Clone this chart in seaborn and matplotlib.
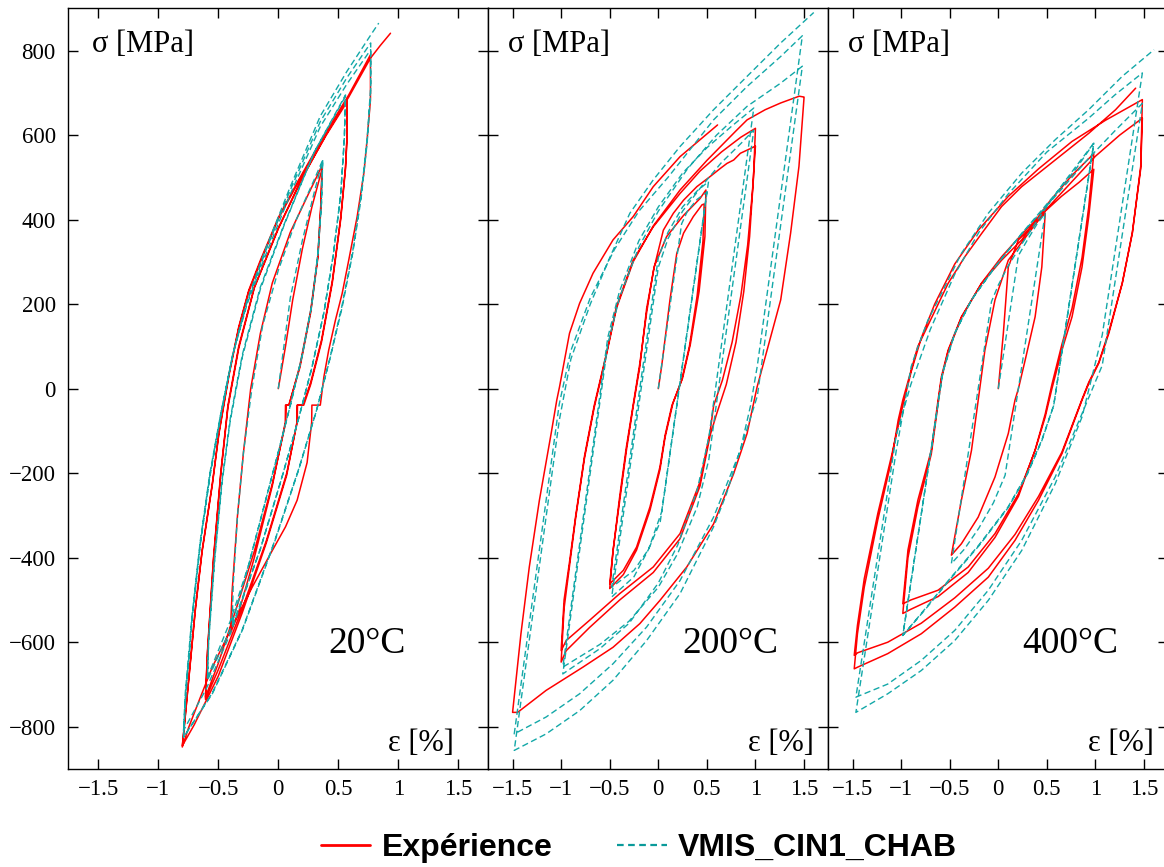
import matplotlib
matplotlib.use("Agg")
import matplotlib.pyplot as plt
from matplotlib.lines import Line2D
import numpy as np
import pandas as pd
import seaborn as sns

# ---------------- data ----------------
temperatures = ["20°C", "200°C", "400°C"]
series_names = ["Expérience", "VMIS_CIN1_CHAB"]
x_ticks = [-1.5, -1, -0.5, 0, 0.5, 1, 1.5]
x_tick_labels = ["\u22121.5", "\u22121", "\u22120.5", "0", "0.5", "1", "1.5"]
y_ticks = [-800, -600, -400, -200, 0, 200, 400, 600, 800]
y_tick_labels = ["\u2212800", "\u2212600", "\u2212400", "\u2212200", "0", "200", "400", "600", "800"]

# strain [%], stress [MPa] histories
exp_20 = [
    (0.00, 0), (0.06, 100), (0.12, 210), (0.20, 330), (0.28, 430), (0.365, 520),
    (0.355, 430), (0.33, 310), (0.27, 180), (0.18, 50), (0.087, -39), (0.06, -39), (0.058, -80),
    (-0.05, -230), (-0.20, -400), (-0.32, -520), (-0.40, -580),
    (-0.385, -480), (-0.34, -300), (-0.29, -150), (-0.23, 0), (-0.15, 130), (-0.05, 250),
    (0.10, 370), (0.25, 460), (0.365, 528),
    (0.355, 440), (0.33, 315), (0.27, 185), (0.18, 55), (0.09, -39), (0.065, -39), (0.062, -80),
    (-0.05, -225), (-0.20, -385), (-0.35, -520), (-0.50, -650), (-0.607, -730),
    (-0.59, -620), (-0.54, -400), (-0.48, -200), (-0.42, -40), (-0.33, 100), (-0.20, 240),
    (0.00, 380), (0.20, 500), (0.40, 600), (0.574, 679),
    (0.574, 600), (0.56, 520), (0.52, 400), (0.45, 250), (0.36, 110), (0.27, 10), (0.212, -39),
    (0.16, -39), (0.157, -80), (0.07, -200), (-0.10, -360), (-0.30, -520), (-0.50, -665), (-0.607, -735),
    (-0.59, -625), (-0.54, -405), (-0.48, -205), (-0.42, -45), (-0.33, 95), (-0.20, 238),
    (0.00, 378), (0.20, 498), (0.40, 602), (0.574, 684),
    (0.574, 605), (0.56, 525), (0.52, 405), (0.45, 255), (0.36, 115), (0.27, 15), (0.205, -39),
    (0.157, -39), (0.155, -80), (0.07, -205), (-0.10, -365), (-0.30, -530), (-0.50, -680),
    (-0.70, -795), (-0.80, -845),
    (-0.774, -770), (-0.69, -517), (-0.635, -383), (-0.55, -225), (-0.496, -106), (-0.41, 36),
    (-0.33, 146), (-0.246, 233), (-0.149, 304), (0.004, 407), (0.17, 494), (0.393, 605),
    (0.587, 695), (0.768, 790),
    (0.768, 683), (0.74, 589), (0.713, 510), (0.657, 407), (0.587, 304), (0.532, 225),
    (0.476, 162), (0.42, 91), (0.38, 28), (0.35, -39), (0.28, -39), (0.278, -80), (0.24, -175),
    (0.157, -264), (0.06, -327), (-0.05, -383), (-0.218, -470), (-0.385, -564), (-0.55, -659),
    (-0.66, -738), (-0.746, -801), (-0.80, -848),
    (-0.774, -772), (-0.69, -520), (-0.635, -386), (-0.55, -228), (-0.496, -109), (-0.41, 33),
    (-0.33, 143), (-0.246, 230), (-0.149, 300), (0.004, 404), (0.17, 490), (0.393, 600),
    (0.587, 690), (0.768, 782), (0.85, 812), (0.935, 841),
]

sim_20 = [
    (0.00, 0), (0.10, 215), (0.20, 350), (0.30, 465), (0.37, 541),
    (0.36, 440), (0.33, 320), (0.28, 200), (0.20, 80), (0.10, -40), (0.00, -150), (-0.12, -280),
    (-0.25, -420), (-0.385, -556),
    (-0.375, -460), (-0.34, -300), (-0.29, -150), (-0.22, 0), (-0.13, 150), (0.00, 280),
    (0.15, 400), (0.30, 495), (0.37, 541),
    (0.36, 440), (0.33, 320), (0.28, 200), (0.20, 80), (0.10, -40), (0.00, -150), (-0.12, -280),
    (-0.25, -420), (-0.40, -550), (-0.59, -683),
    (-0.58, -590), (-0.53, -400), (-0.47, -220), (-0.40, -70), (-0.30, 80), (-0.15, 240),
    (0.05, 390), (0.30, 560), (0.56, 692),
    (0.55, 590), (0.52, 460), (0.46, 320), (0.38, 180), (0.28, 50), (0.17, -70), (0.03, -210),
    (-0.15, -380), (-0.37, -550), (-0.59, -690),
    (-0.58, -595), (-0.53, -405), (-0.47, -225), (-0.40, -75), (-0.30, 75), (-0.15, 235),
    (0.05, 388), (0.30, 560), (0.56, 695),
    (0.55, 590), (0.52, 460), (0.46, 320), (0.38, 180), (0.28, 50), (0.17, -70), (0.03, -210),
    (-0.15, -380), (-0.40, -580), (-0.60, -710), (-0.79, -809),
    (-0.775, -720), (-0.72, -540), (-0.65, -360), (-0.57, -200), (-0.48, -60), (-0.38, 80),
    (-0.26, 200), (-0.10, 320), (0.10, 460), (0.35, 620), (0.57, 720), (0.77, 802),
    (0.77, 700), (0.74, 580), (0.69, 450), (0.62, 320), (0.53, 190), (0.43, 70), (0.32, -50),
    (0.17, -190), (-0.03, -360), (-0.30, -570), (-0.55, -720), (-0.79, -825),
    (-0.775, -735), (-0.72, -550), (-0.65, -365), (-0.57, -205), (-0.48, -62), (-0.38, 80),
    (-0.26, 205), (-0.10, 330), (0.10, 470), (0.35, 632), (0.57, 735), (0.77, 818),
    (0.77, 715), (0.74, 590), (0.69, 458), (0.62, 325), (0.53, 195), (0.43, 72), (0.32, -50),
    (0.17, -192), (-0.03, -362), (-0.30, -572), (-0.55, -722), (-0.79, -825),
    (-0.775, -738), (-0.72, -552), (-0.65, -368), (-0.57, -208), (-0.48, -65), (-0.38, 80),
    (-0.26, 208), (-0.10, 335), (0.10, 478), (0.35, 645), (0.57, 750), (0.78, 841), (0.837, 865),
]

exp_200 = [
    (0.00, 0), (0.034, 52), (0.12, 210), (0.19, 320), (0.26, 368), (0.36, 407), (0.45, 435), (0.472, 437),
    (0.46, 350), (0.40, 220), (0.32, 100), (0.24, 20), (0.14, -40), (0.07, -110), (0.017, -185),
    (-0.086, -280), (-0.224, -375), (-0.36, -430), (-0.50, -462),
    (-0.466, -383), (-0.397, -264), (-0.328, -146), (-0.259, -43), (-0.19, 52), (-0.12, 190),
    (-0.04, 290), (0.086, 360), (0.26, 410), (0.43, 450), (0.49, 470),
    (0.48, 360), (0.42, 230), (0.33, 105), (0.25, 25), (0.15, -35), (0.07, -115), (0.017, -192),
    (-0.086, -288), (-0.224, -382), (-0.36, -440), (-0.50, -473),
    (-0.466, -385), (-0.40, -260), (-0.33, -140), (-0.26, -40), (-0.19, 60), (-0.12, 180),
    (-0.05, 280), (0.052, 375), (0.155, 415), (0.26, 446), (0.397, 478), (0.534, 502),
    (0.638, 521), (0.707, 533), (0.776, 541), (0.845, 557), (0.948, 568), (1.00, 574),
    (0.97, 470), (0.92, 340), (0.85, 220), (0.76, 110), (0.66, 20), (0.57, -40), (0.534, -100),
    (0.43, -220), (0.224, -343), (-0.052, -422), (-0.397, -485), (-0.707, -548), (-0.948, -596),
    (-1.00, -620),
    (-0.97, -500), (-0.914, -410), (-0.85, -300), (-0.76, -160), (-0.66, -40), (-0.534, 83),
    (-0.431, 194), (-0.259, 304), (-0.052, 383), (0.224, 462), (0.43, 515), (0.65, 560),
    (0.85, 595), (1.00, 616),
    (0.98, 500), (0.94, 360), (0.88, 230), (0.80, 110), (0.70, 10), (0.60, -60), (0.534, -110),
    (0.43, -230), (0.224, -355), (-0.052, -435), (-0.397, -500), (-0.707, -565), (-0.948, -620),
    (-1.00, -647),
    (-0.97, -520), (-0.914, -420), (-0.85, -305), (-0.76, -165), (-0.66, -45), (-0.534, 80),
    (-0.431, 190), (-0.259, 300), (-0.052, 385), (0.224, 470), (0.50, 540), (0.80, 610),
    (0.914, 636), (1.10, 660), (1.26, 676), (1.45, 692), (1.50, 690),
    (1.50, 688), (1.448, 526), (1.362, 368), (1.26, 210), (1.12, 91), (1.017, 4), (0.914, -106),
    (0.776, -201), (0.569, -320), (0.293, -422), (0.017, -501), (-0.19, -556), (-0.466, -612),
    (-0.776, -659), (-1.155, -714), (-1.448, -766), (-1.50, -766),
    (-1.414, -580), (-1.328, -422), (-1.224, -264), (-1.103, -106), (-1.045, -27), (-1.017, 4),
    (-0.914, 131), (-0.81, 202), (-0.672, 273), (-0.466, 352), (-0.259, 407), (-0.052, 478),
    (0.224, 549), (0.61, 624),
]

sim_200 = [
    (0.00, 0), (0.24, 390), (0.30, 420), (0.40, 448), (0.50, 465),
    (0.02, -315), (-0.10, -380), (-0.25, -430), (-0.48, -470),
    (0.00, 310), (0.10, 370), (0.25, 430), (0.40, 468), (0.517, 490),
    (0.037, -290), (-0.10, -380), (-0.25, -445), (-0.48, -493),
    (0.00, 287), (0.10, 355), (0.25, 420), (0.45, 480), (0.65, 535), (0.85, 580), (0.983, 612),
    (0.52, -168), (0.40, -280), (0.20, -390), (0.00, -470), (-0.30, -550), (-0.60, -605), (-0.983, -659),
    (-0.52, 121), (-0.40, 230), (-0.20, 350), (0.00, 430), (0.25, 510), (0.50, 570), (0.75, 620), (0.983, 664),
    (0.52, -116), (0.40, -240), (0.20, -370), (0.00, -460), (-0.30, -555), (-0.60, -615), (-0.983, -675),
    (-0.52, 105), (-0.40, 215), (-0.20, 335), (0.00, 420), (0.30, 520), (0.60, 600), (0.914, 668),
    (1.26, 723), (1.483, 763),
    (1.02, -17), (0.845, -146), (0.569, -304), (0.224, -454), (-0.12, -564), (-0.466, -651),
    (-0.81, -722), (-1.155, -777), (-1.483, -817),
    (-1.02, -37), (-0.90, 90), (-0.70, 215), (-0.45, 330), (-0.20, 420), (0.10, 500), (0.569, 636),
    (0.914, 715), (1.26, 786), (1.483, 835),
    (1.02, 55), (0.95, -40), (0.85, -140), (0.70, -250), (0.569, -327), (0.224, -485), (-0.12, -596),
    (-0.466, -690), (-0.81, -762), (-1.155, -817), (-1.483, -856),
    (-1.02, -76), (-0.90, 70), (-0.70, 200), (-0.50, 310), (-0.293, 415), (-0.052, 494),
    (0.224, 573), (0.569, 660), (0.914, 739), (1.26, 818), (1.60, 890),
]

exp_400 = [
    (0.00, 0), (0.052, 131), (0.103, 288), (0.207, 352), (0.345, 383), (0.483, 415),
    (0.448, 288), (0.379, 170), (0.276, 67), (0.207, 0), (0.172, -27), (0.103, -106), (-0.034, -209),
    (-0.207, -304), (-0.38, -367), (-0.483, -394),
    (-0.38, -264), (-0.276, -146), (-0.207, -27), (-0.138, 91), (-0.034, 210), (0.103, 304),
    (0.31, 367), (0.483, 420), (0.65, 455), (0.83, 488), (0.983, 519),
    (0.931, 407), (0.862, 288), (0.759, 170), (0.655, 91), (0.552, 0), (0.483, -67), (0.379, -146),
    (0.207, -249), (-0.034, -343), (-0.31, -422), (-0.62, -477), (-0.90, -500), (-0.983, -509),
    (-0.93, -382), (-0.828, -264), (-0.69, -146), (-0.62, -27), (-0.586, 28), (-0.517, 91),
    (-0.38, 170), (-0.172, 249), (0.034, 304), (0.241, 352), (0.517, 440), (0.759, 505), (0.983, 556),
    (0.931, 430), (0.862, 310), (0.759, 190), (0.655, 105), (0.552, 10), (0.483, -60), (0.379, -145),
    (0.207, -255), (-0.034, -352), (-0.31, -435), (-0.62, -492), (-0.90, -522), (-0.983, -532),
    (-0.93, -400), (-0.828, -280), (-0.69, -155), (-0.62, -35), (-0.586, 22), (-0.517, 88),
    (-0.38, 168), (-0.172, 250), (0.034, 312), (0.241, 365), (0.517, 430), (0.759, 490),
    (1.00, 550), (1.25, 600), (1.483, 640),
    (1.466, 520), (1.38, 370), (1.276, 250), (1.138, 135), (1.034, 62), (0.931, 15), (0.862, -25),
    (0.655, -150), (0.414, -255), (0.172, -345), (-0.103, -425), (-0.448, -495), (-0.793, -555),
    (-1.138, -600), (-1.448, -625), (-1.483, -631),
    (-1.45, -560), (-1.38, -450), (-1.24, -295), (-1.10, -160), (-0.983, -40), (-0.897, 40),
    (-0.793, 120), (-0.655, 200), (-0.448, 295), (-0.207, 375), (0.103, 455), (0.414, 520),
    (0.759, 585), (1.103, 635), (1.414, 675), (1.483, 684),
    (1.466, 526), (1.38, 368), (1.276, 249), (1.138, 131), (1.034, 60), (0.931, 12), (0.862, -27),
    (0.655, -154), (0.414, -264), (0.172, -359), (-0.103, -446), (-0.448, -517), (-0.793, -580),
    (-1.138, -627), (-1.448, -659), (-1.483, -663),
    (-1.45, -580), (-1.38, -470), (-1.24, -310), (-1.10, -170), (-1.03, -74), (-0.983, -27),
    (-0.83, 99), (-0.517, 249), (-0.345, 312), (-0.172, 367), (0.034, 431), (0.241, 478),
    (0.586, 541), (0.93, 604), (1.207, 660), (1.414, 711),
]

sim_400 = [
    (0.00, 0), (0.207, 315), (0.30, 352), (0.40, 390), (0.483, 415),
    (0.07, -205), (-0.05, -270), (-0.20, -330), (-0.35, -380), (-0.483, -414),
    (-0.07, 206), (0.00, 245), (0.10, 290), (0.25, 345), (0.45, 415), (0.65, 480), (0.83, 535), (0.983, 581),
    (0.57, -40), (0.45, -120), (0.30, -200), (0.10, -280), (-0.20, -370), (-0.50, -450), (-0.75, -520), (-0.983, -584),
    (-0.57, 40), (-0.448, 131), (-0.276, 210), (-0.034, 288), (0.241, 367), (0.586, 460), (0.80, 520), (0.983, 581),
    (0.57, -40), (0.45, -122), (0.30, -202), (0.10, -282), (-0.20, -372), (-0.50, -452), (-0.75, -522), (-0.983, -584),
    (-0.57, 40), (-0.448, 131), (-0.276, 210), (-0.034, 288), (0.241, 367), (0.586, 455), (0.93, 545),
    (1.20, 610), (1.483, 675),
    (1.07, 55), (0.862, -59), (0.586, -209), (0.241, -359), (-0.103, -477), (-0.448, -572),
    (-0.793, -643), (-1.138, -699), (-1.466, -730),
    (-1.05, -110), (-0.90, 10), (-0.70, 140), (-0.45, 270), (-0.20, 370), (0.10, 460), (0.50, 560),
    (0.93, 640), (1.20, 695), (1.483, 747),
    (1.07, 127), (0.862, -67), (0.586, -225), (0.241, -383), (-0.103, -501), (-0.448, -596),
    (-0.793, -667), (-1.138, -722), (-1.466, -766),
    (-1.05, -146), (-0.897, 52), (-0.828, 99), (-0.724, 162), (-0.586, 225), (-0.38, 320),
    (-0.103, 415), (0.241, 510), (0.586, 589), (0.93, 660), (1.276, 739), (1.603, 802),
]

exp_series = [exp_20, exp_200, exp_400]
sim_series = [sim_20, sim_200, sim_400]

# ---------------- style ----------------
sns.set_theme(style="ticks")
plt.rcParams["font.family"] = ["Liberation Serif", "DejaVu Serif"]
plt.rcParams["axes.linewidth"] = 1.0
for key in ["text.color", "axes.labelcolor", "xtick.color", "ytick.color", "axes.edgecolor"]:
    plt.rcParams[key] = "black"

RED = "#FF0000"
TEAL = "#13A8A8"
DASH = (0, (4.5, 2.5))

W, H = 1164, 867
fig = plt.figure(figsize=(W / 100, H / 100), dpi=100)
bottom = 1 - 769 / H
height = 760.7 / H
lefts = [68.3, 488.3, 828.3]
widths = [420, 340, 340]
eps_label_x = [1.46, 1.60, 1.60]

for i in range(3):
    ax = fig.add_axes([lefts[i] / W, bottom, widths[i] / W, height])
    e = pd.DataFrame(exp_series[i], columns=["eps", "sig"])
    s = pd.DataFrame(sim_series[i], columns=["eps", "sig"])
    sns.lineplot(data=e, x="eps", y="sig", sort=False, estimator=None, ax=ax,
                 color=RED, linewidth=1.1)
    sns.lineplot(data=s, x="eps", y="sig", sort=False, estimator=None, ax=ax,
                 color=TEAL, linewidth=1.0, linestyle=DASH)
    ax.set_xlim(-1.75, 1.75)
    ax.set_ylim(-900, 900)
    ax.set_xticks(x_ticks)
    ax.set_xticklabels(x_tick_labels)
    ax.set_yticks(y_ticks)
    ax.set_yticklabels(y_tick_labels)
    ax.set_xlabel("")
    ax.set_ylabel("")
    ax.tick_params(direction="in", top=True, right=True, length=7, width=1.0,
                   labelsize=16.5, colors="black", pad=7)
    ax.tick_params(axis="y", pad=9)
    if i > 0:
        ax.tick_params(labelleft=False)
    for sp in ax.spines.values():
        sp.set_visible(True)
        sp.set_color("black")
        sp.set_linewidth(1.0)
    ax.text(-1.55, 814, "σ [MPa]", fontsize=22, ha="left", va="center", color="black")
    ax.text(eps_label_x[i], -840, "ε [%]", fontsize=22, ha="right", va="center", color="black")
    ax.text(0.74, -603, temperatures[i], fontsize=27, ha="center", va="center", color="black")

handles = [Line2D([0], [0], color=RED, lw=2.0),
           Line2D([0], [0], color="#0A9A9A", lw=1.6, linestyle=(0, (3, 2)))]
fig.legend(handles, series_names, loc="center", bbox_to_anchor=(639 / W, 19 / H),
           ncol=2, frameon=False, labelcolor="black",
           prop={"family": "Liberation Sans", "weight": "bold", "size": 23},
           handlelength=1.54, handletextpad=0.36, columnspacing=2.04)

fig.savefig("out.png", dpi=100)
